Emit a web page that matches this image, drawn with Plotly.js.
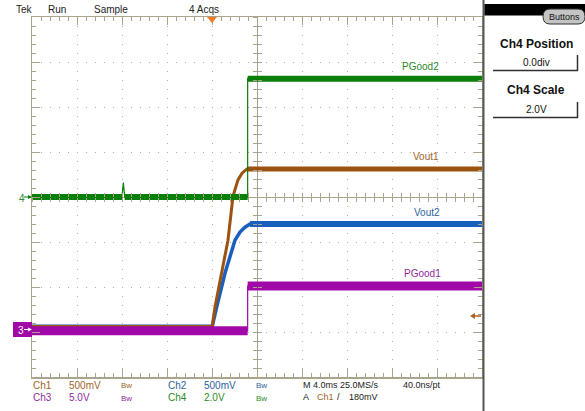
<!DOCTYPE html>
<html><head><meta charset="utf-8">
<script src="https://cdn.plot.ly/plotly-3.0.1.min.js"></script>
<style>html,body{margin:0;padding:0;background:#fff}#plot{width:585px;height:411px}</style>
</head><body><div id="plot"></div>
<script>
// ---- Data (time in ms relative to screen centre, amplitude in screen divisions) ----
const ch1Name = "Vout1";
const ch1T = [-20, -4.0, -3.73, -3.14, -2.58, -2.13, -1.69, -1.33, -0.89, 20];
const ch1V = [-2.9, -2.9, -2.44, -1.69, -0.96, 0.02, 0.38, 0.53, 0.62, 0.62];

const ch2Name = "Vout2";
const ch2T = [-20, -4.0, -3.58, -2.84, -1.96, -1.51, -1.07, -0.62, 20];
const ch2V = [-2.9, -2.9, -2.44, -1.69, -0.96, -0.78, -0.67, -0.6, -0.6];

const ch3Name = "PGood1";
const ch3T = [-20, -0.83, -0.83, 20];
const ch3V = [-2.97, -2.97, -1.98, -1.98];

const ch4Name = "PGood2";
const ch4T = [-20, -12.0, -11.88, -11.76, -0.83, -0.83, 20];
const ch4V = [0, 0, 0.32, 0, 0, 2.63, 2.63];

const headerTexts = ["Tek", "Run", "Sample", "4 Acqs"];
const chLabels = ["Ch1", "Ch2", "Ch3", "Ch4"];
const chScales = ["500mV", "500mV", "5.0V", "2.0V"];
const bwText = "Bw";
const timebase = "M 4.0ms 25.0MS/s";
const samplePt = "40.0ns/pt";
const trigText = "180mV";
const menuTitles = ["Ch4 Position", "Ch4 Scale"];
const menuValues = ["0.0div", "2.0V"];

// ---- Styling ----
const C1 = '#9c5210', C2 = '#1a5fbe', C3 = '#a008a8', C4 = '#0a7f0a';
const T1 = '#a0642a', T2 = '#2d5f9e', T3 = '#8e2c9c', T4 = '#2b8a2b';
const FRAME = '#a9a48b', GRID = '#b5b19c';
const FONT = 'Liberation Sans, Arial, sans-serif';

const L = 32, R = 482, T = 17, B = 377;
const px = x => (x - L) / (R - L);
const py = y => (B - y) / (B - T);

function flat(xs, ys) {
  const X = [], Y = [];
  for (let i = 0; i < xs.length - 1; i++) {
    if (ys[i] === ys[i + 1] && xs[i] !== xs[i + 1]) {
      X.push(xs[i], xs[i + 1], null); Y.push(ys[i], ys[i + 1], null);
    }
  }
  return [X, Y];
}
function chTraces(xs, ys, color, thin, thick) {
  const f = flat(xs, ys);
  return [
    {x: xs, y: ys, mode: 'lines', line: {color, width: thin}, hoverinfo: 'skip'},
    {x: f[0], y: f[1], mode: 'lines', line: {color, width: thick}, hoverinfo: 'skip'}
  ];
}

const data = [
  ...chTraces(ch2T, ch2V, C2, 3.5, 6),
  ...chTraces(ch1T, ch1V, C1, 3, 5),
  ...chTraces(ch4T, ch4V, C4, 1.2, 6),
  ...chTraces(ch3T, ch3V, C3, 1.2, 9),
  {x: [], y: [], xaxis: 'x2', yaxis: 'y2'},
  {x: [], y: [], xaxis: 'x3', yaxis: 'y3'}
];

const tickCommon = {showticklabels: false, tickcolor: FRAME, tickwidth: 1};
const layout = {
  width: 585, height: 411,
  margin: {l: L, r: 585 - R, t: T, b: 411 - B, pad: 0},
  paper_bgcolor: '#ffffff', plot_bgcolor: '#ffffff',
  showlegend: false,
  font: {family: FONT, size: 10, color: '#222'},
  xaxis: Object.assign({range: [-20, 20], tick0: 0, dtick: 4, showgrid: true, griddash: '1px,8px',
    gridcolor: GRID, gridwidth: 1, zeroline: true, zerolinecolor: FRAME, zerolinewidth: 1,
    showline: true, linecolor: FRAME, linewidth: 1.5, mirror: 'allticks', ticks: 'inside', ticklen: 8,
    minor: {dtick: 0.8, tick0: 0, ticks: 'inside', ticklen: 4, tickcolor: FRAME, showgrid: false},
    fixedrange: true}, tickCommon),
  yaxis: Object.assign({range: [-4, 4], tick0: 0, dtick: 1, showgrid: true, griddash: '1px,8px',
    gridcolor: GRID, gridwidth: 1, zeroline: true, zerolinecolor: FRAME, zerolinewidth: 1,
    showline: true, linecolor: FRAME, linewidth: 1.5, mirror: 'allticks', ticks: 'inside', ticklen: 8,
    minor: {dtick: 0.2, tick0: 0, ticks: 'inside', ticklen: 4, tickcolor: FRAME, showgrid: false},
    fixedrange: true}, tickCommon),
  xaxis2: Object.assign({overlaying: 'x', anchor: 'free', position: 0.5, range: [-20, 20], tick0: 0, dtick: 0.8,
    ticks: 'outside', ticklen: 4, showgrid: false, zeroline: false, showline: false}, tickCommon),
  xaxis3: Object.assign({overlaying: 'x', anchor: 'free', position: 0.5, range: [-20, 20], tick0: 0, dtick: 0.8,
    ticks: 'inside', ticklen: 4, showgrid: false, zeroline: false, showline: false}, tickCommon),
  yaxis2: Object.assign({overlaying: 'y', anchor: 'free', position: 0.5, range: [-4, 4], tick0: 0, dtick: 0.2,
    ticks: 'outside', ticklen: 4, showgrid: false, zeroline: false, showline: false}, tickCommon),
  yaxis3: Object.assign({overlaying: 'y', anchor: 'free', position: 0.5, range: [-4, 4], tick0: 0, dtick: 0.2,
    ticks: 'inside', ticklen: 4, showgrid: false, zeroline: false, showline: false}, tickCommon),
  shapes: [], annotations: []
};

const S = layout.shapes, A = layout.annotations;
function txt(text, x, y, color, size, anchor, extra) {
  A.push(Object.assign({text, xref: 'paper', yref: 'paper', x: px(x), y: py(y), xanchor: anchor || 'left',
    yanchor: 'middle', showarrow: false, borderpad: 0,
    font: {family: FONT, size: size || 10, color: color || '#222'}}, extra || {}));
}
function rect(x0, y0, x1, y1, fill, lineColor, lw) {
  S.push({type: 'rect', xref: 'paper', yref: 'paper', x0: px(x0), x1: px(x1), y0: py(y0), y1: py(y1),
    fillcolor: fill, line: {color: lineColor || fill, width: lw == null ? 0 : lw}, layer: 'above'});
}
function line(x0, y0, x1, y1, color, w) {
  S.push({type: 'line', xref: 'paper', yref: 'paper', x0: px(x0), x1: px(x1), y0: py(y0), y1: py(y1),
    line: {color, width: w || 1}, layer: 'above'});
}
function path(pts, color) {
  S.push({type: 'path', xref: 'paper', yref: 'paper',
    path: 'M' + pts.map(p => px(p[0]) + ',' + py(p[1])).join(' L') + ' Z',
    fillcolor: color, line: {color, width: 0}, layer: 'above'});
}

// Header
txt(headerTexts[0], 15, 9, '#222', 10);
txt(headerTexts[1], 47, 9, '#222', 10);
txt(headerTexts[2], 93, 9, '#222', 10);
txt(headerTexts[3], 188, 9, '#222', 10);
// trigger position marker
path([[207, 17], [217, 17], [212, 23]], '#f07a2a');
// trigger level arrow
line(473, 316, 481, 316, '#b0621e', 1.5);
path([[470, 316], [475, 313], [475, 319]], '#b0621e');

// Channel labels on traces
txt(ch4Name, 420, 67, T4, 10, 'center');
txt(ch1Name, 426, 157, T1, 10, 'center');
txt(ch2Name, 427, 212, T2, 10, 'center');
txt(ch3Name, 422, 273, T3, 10, 'center');

// Ground markers
txt('4', 18, 198, T4, 10);
line(24, 197, 31, 197, C4, 1);
path([[28, 195], [32, 197], [28, 199]], C4);
rect(13, 322, 32, 337, C3);
txt('3', 17, 330, '#ffffff', 10);
line(24, 329.5, 31, 329.5, '#ffffff', 1);
path([[28, 327.5], [32, 329.5], [28, 331.5]], '#ffffff');

// Bottom readout
txt(chLabels[0], 32, 385, T1); txt(chScales[0], 68, 385, T1); txt(bwText, 120, 386, T1, 8);
txt(chLabels[1], 167, 385, T2); txt(chScales[1], 203, 385, T2); txt(bwText, 255, 386, T2, 8);
txt(chLabels[2], 32, 397, T3); txt(chScales[2], 68, 397, T3); txt(bwText, 120, 398, T3, 8);
txt(chLabels[3], 167, 397, T4); txt(chScales[3], 203, 397, T4); txt(bwText, 255, 398, T4, 8);
txt(timebase, 302, 385, '#222', 9);
txt(samplePt, 402, 385, '#222', 9);
txt('A', 302, 397, '#222', 9);
txt(chLabels[0], 316, 397, T1, 9);
txt('/', 336, 397, '#222', 9);
txt(trigText, 348, 397, '#222', 9);

// Right panel
line(483.5, 0, 483.5, 411, '#555555', 2);
rect(484.5, 4, 585, 15.5, '#000000');
S.push({type: 'path', xref: 'paper', yref: 'paper', layer: 'above',
  path: 'M' + px(550) + ',' + py(9) + ' L' + px(578) + ',' + py(9) +
        ' Q' + px(585) + ',' + py(9) + ' ' + px(585) + ',' + py(16.5) +
        ' Q' + px(585) + ',' + py(24) + ' ' + px(578) + ',' + py(24) +
        ' L' + px(550) + ',' + py(24) +
        ' Q' + px(543) + ',' + py(24) + ' ' + px(543) + ',' + py(16.5) +
        ' Q' + px(543) + ',' + py(9) + ' ' + px(550) + ',' + py(9) + ' Z',
  fillcolor: '#c4c4c4', line: {color: '#303030', width: 1}});
txt('Buttons', 564, 17, '#111', 9, 'center');
txt(menuTitles[0], 536, 44, '#111', 12, 'center', {font: {family: FONT, size: 12, color: '#111', weight: 'bold'}});
txt(menuValues[0], 536, 62, '#111', 10, 'center');
line(493, 70.5, 578, 70.5, '#303030', 1.5);
line(577.5, 55, 577.5, 71, '#303030', 1.5);
txt(menuTitles[1], 536, 90, '#111', 12, 'center', {font: {family: FONT, size: 12, color: '#111', weight: 'bold'}});
txt(menuValues[1], 536, 109, '#111', 10, 'center');
line(493, 117.5, 578, 117.5, '#303030', 1.5);
line(577.5, 102, 577.5, 118, '#303030', 1.5);

Plotly.newPlot('plot', data, layout, {displayModeBar: false, staticPlot: true});
</script></body></html>
